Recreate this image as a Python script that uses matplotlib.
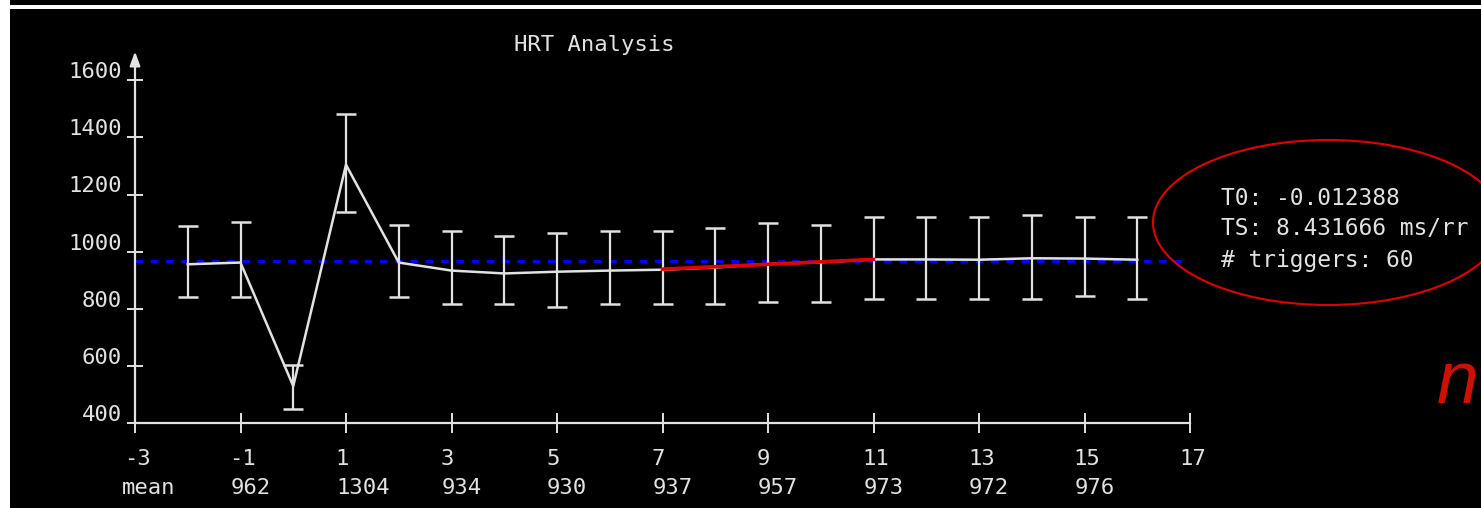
import matplotlib
matplotlib.use("Agg")
import matplotlib.pyplot as plt
from matplotlib.patches import Ellipse, Rectangle
from matplotlib.transforms import offset_copy, blended_transform_factory

# lags around the PVC and the averaged RR intervals (ms)
lags = [-2, -1, 0, 1, 2, 3, 4, 5, 6, 7, 8, 9, 10, 11, 12, 13, 14, 15, 16]
means = [956, 962, 530, 1304, 962, 934, 924, 930, 934, 937, 945, 957, 963,
         973, 973, 972, 977, 976, 972]
upper = [1091, 1105, 604, 1481, 1095, 1074, 1056, 1067, 1074, 1074, 1084,
         1102, 1095, 1123, 1123, 1123, 1130, 1123, 1123]
lower = [842, 842, 450, 1140, 842, 818, 818, 807, 818, 818, 818, 825, 825,
         835, 835, 835, 835, 846, 835]

# turbulence slope segment (red) and overall mean (blue)
ts_x = [7, 11]
ts_y = [939, 973]
overall_mean = 969

xticks = [-3, -1, 1, 3, 5, 7, 9, 11, 13, 15, 17]
mean_row = ["mean", "962", "1304", "934", "930", "937", "957", "973", "972", "976", ""]
yticks = [400, 600, 800, 1000, 1200, 1400, 1600]

info = ["T0: -0.012388", "TS: 8.431666 ms/rr", "# triggers: 60"]

W, H = 1481, 508
fg = "#e2e2e2"
plt.rcParams["font.family"] = ["DejaVu Sans Mono"]

fig = plt.figure(figsize=(W / 100, H / 100), dpi=100)
fig.patch.set_facecolor("white")
# black panel with a thin white stripe at the top
fig.add_artist(Rectangle((10 / W, 0), 1, (H - 9) / H, transform=fig.transFigure,
                         facecolor="black", edgecolor="none", zorder=-10))
fig.add_artist(Rectangle((10 / W, 1 - 5 / H), 1, 5 / H, transform=fig.transFigure,
                         facecolor="black", edgecolor="none", zorder=-10))

ax = fig.add_axes([135 / W, (H - 423.3) / H, 1055 / W, 371.8 / H])
ax.set_facecolor("none")
ax.set_xlim(-3, 17)
ax.set_ylim(400, 1700)

for s in ["top", "right", "left"]:
    ax.spines[s].set_visible(False)
ax.spines["bottom"].set_color(fg)
ax.spines["bottom"].set_linewidth(1.6)

ax.annotate("", xy=(-3, 1700), xytext=(-3, 400), xycoords="data",
            arrowprops=dict(arrowstyle="-|>,head_length=0.6,head_width=0.22",
                            color=fg, lw=1.6, mutation_scale=14,
                            shrinkA=0, shrinkB=0),
            annotation_clip=False)

ax.set_xticks(xticks)
ax.set_xticklabels([])
ax.set_yticks(yticks)
ax.set_yticklabels([])
ax.tick_params(axis="x", direction="inout", length=15, width=1.4, color=fg)
ax.tick_params(axis="y", direction="inout", length=11, width=1.4, color=fg)

ax.axhline(overall_mean, color="#0000ff", lw=2.2, ls=(0, (2.5, 2.5)), zorder=1)
ax.plot(lags, means, color=fg, lw=1.8, zorder=2)
ax.errorbar(lags, means,
            yerr=[[m - lo for m, lo in zip(means, lower)],
                  [u - m for m, u in zip(means, upper)]],
            fmt="none", ecolor=fg, elinewidth=1.6, capsize=7.5, capthick=1.8,
            zorder=3)
ax.plot(ts_x, ts_y, color="#e00000", lw=2.6, zorder=4)

# tick labels drawn as text so they can sit like the original
for v in yticks:
    ax.text(-3, v, str(v), ha="right", va="baseline", fontsize=16, color=fg,
            transform=offset_copy(ax.transData, fig=fig, x=-13, y=2, units="dots"),
            clip_on=False)

bt = blended_transform_factory(ax.transData, ax.transAxes)
for x, m in zip(xticks, mean_row):
    ax.text(x, 0, str(x), ha="left", va="baseline", fontsize=16, color=fg,
            transform=offset_copy(bt, fig=fig, x=-11, y=-41.7, units="dots"),
            clip_on=False)
    dx = -13 if m == "mean" else -10
    ax.text(x, 0, m, ha="left", va="baseline", fontsize=16, color=fg,
            transform=offset_copy(bt, fig=fig, x=dx, y=-71, units="dots"),
            clip_on=False)

fig.text(594 / W, 1 - 45 / H, "HRT Analysis", ha="center", va="center",
         fontsize=16, color=fg)

for line, base in zip(info, [205, 235, 266.5]):
    fig.text(1221 / W, 1 - base / H, line, ha="left", va="baseline",
             fontsize=16.5, color=fg)

fig.add_artist(Ellipse((1328 / W, 1 - 222.5 / H), 350 / W, 165 / H,
                       transform=fig.transFigure, fill=False,
                       edgecolor="#e00000", lw=1.5))

fig.text(1478 / W, 1 - 403 / H, "n", ha="right", va="baseline", fontsize=54,
         style="italic", color="#cc1100", family=["Liberation Sans"])

fig.savefig("out.png", dpi=100, facecolor=fig.get_facecolor())
